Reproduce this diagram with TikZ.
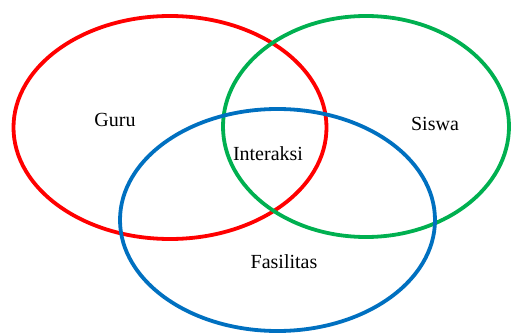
\documentclass[tikz,border=0pt]{standalone}
\usepackage{fontspec}
\setmainfont{Liberation Serif}
\definecolor{guruRed}{RGB}{255,0,0}
\definecolor{siswaGreen}{RGB}{0,176,80}
\definecolor{fasBlue}{RGB}{0,112,192}
\begin{document}
\begin{tikzpicture}[x=1pt,y=-1pt,
    ring/.style={line width=3.8pt},
    lbl/.style={font=\fontsize{20}{23}\selectfont}]
\useasboundingbox (0,0) rectangle (512,334);
    % Draw the three sets
\draw[ring, guruRed] (170,127.5) ellipse (156.5pt and 111.5pt);
\draw[ring, siswaGreen] (366,126.5) ellipse (143pt and 110.5pt);
\draw[ring, fasBlue] (277.5,220) ellipse (157.5pt and 111pt);
% the labels
\node[lbl] (guru) at (115,120) {Guru};
\node[lbl] (siswa) at (435,124) {Siswa};
\node[lbl] (interaksi) at (268,154) {Interaksi};
\node[lbl] (fasilitas) at (284,262) {Fasilitas};
\end{tikzpicture}
\end{document}
